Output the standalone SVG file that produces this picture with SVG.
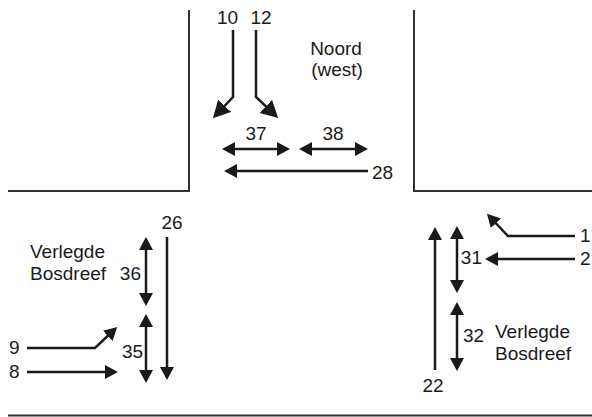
<svg xmlns="http://www.w3.org/2000/svg" width="592" height="417" viewBox="0 0 592 417">
<style>
text{font-family:"Liberation Sans",Arial,sans-serif;font-size:19px;fill:#1a1a1a}
.road{fill:none;stroke:#333;stroke-width:2}
.a{fill:none;stroke:#1a1a1a;stroke-width:2.5}
.s{marker-end:url(#h)}
.d{marker-start:url(#h);marker-end:url(#h)}
.b{marker-end:url(#H)}
</style>
<defs>
<marker id="h" markerUnits="userSpaceOnUse" markerWidth="15" markerHeight="15" refX="10" refY="7" orient="auto-start-reverse"><path d="M0,0 L13,7 L0,14 z" fill="#1a1a1a"/></marker>
<marker id="H" markerUnits="userSpaceOnUse" markerWidth="20" markerHeight="20" refX="14" refY="9" orient="auto"><path d="M0,0 L17,9 L0,18 z" fill="#1a1a1a"/></marker>
</defs>
<rect width="592" height="417" fill="#fff"/>
<g id="roads">
<path class="road" d="M189,10 V191 H8"/>
<path class="road" d="M414,10 V191 H592"/>
<path class="road" d="M8,415.5 H592"/>
</g>
<g id="connectors">
<path class="a b" d="M233,30 V97 L215,116"/>
<path class="a b" d="M256,30 V97 L276,116"/>
<path class="a d" d="M225,149 H287"/>
<path class="a d" d="M302,149 H365"/>
<path class="a s" d="M368,171 H227"/>
<path class="a s" d="M167,237 V377"/>
<path class="a d" d="M146,240 V303"/>
<path class="a d" d="M146,317 V380"/>
<path class="a s" d="M27,348 H95 L115,329"/>
<path class="a s" d="M27,372 H115"/>
<path class="a s" d="M435,370 V230"/>
<path class="a d" d="M457,229 V290"/>
<path class="a d" d="M457,305 V368"/>
<path class="a s" d="M575,236 H508 L489,216"/>
<path class="a s" d="M575,259 H488"/>
</g>
<g id="labels">
<text x="227.5" y="24" text-anchor="middle">10</text>
<text x="261" y="24" text-anchor="middle">12</text>
<text x="336" y="55" text-anchor="middle">Noord</text>
<text x="337" y="76" text-anchor="middle">(west)</text>
<text x="256" y="140" text-anchor="middle">37</text>
<text x="333" y="140" text-anchor="middle">38</text>
<text x="372" y="179">28</text>
<text x="172" y="229" text-anchor="middle">26</text>
<text x="30" y="258">Verlegde</text>
<text x="30" y="280">Bosdreef</text>
<text x="141" y="280" text-anchor="end">36</text>
<text x="122" y="358">35</text>
<text x="9" y="354">9</text>
<text x="9" y="378">8</text>
<text x="580" y="242">1</text>
<text x="580" y="265">2</text>
<text x="482" y="264" text-anchor="end">31</text>
<text x="463" y="342">32</text>
<text x="495" y="338">Verlegde</text>
<text x="495" y="360">Bosdreef</text>
<text x="433" y="392" text-anchor="middle">22</text>
</g>
</svg>
